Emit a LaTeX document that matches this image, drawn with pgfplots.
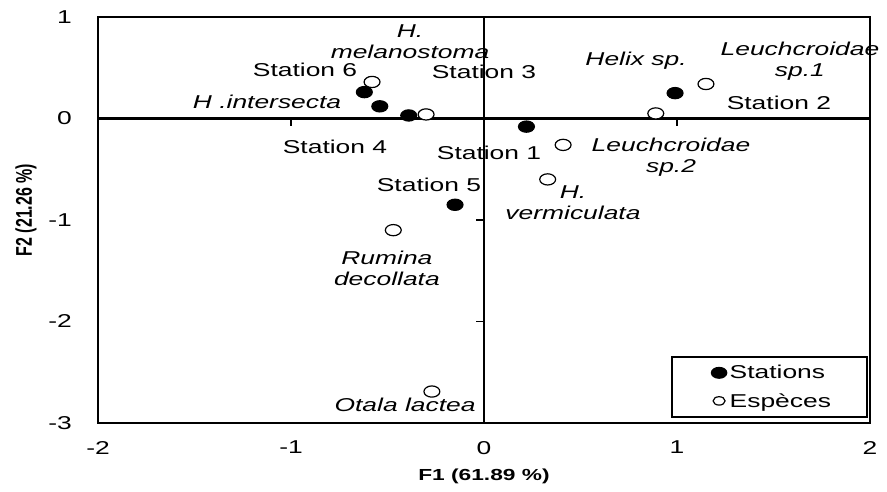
\documentclass[border=0pt]{standalone}
\usepackage{graphicx}
\usepackage{pgfplots}
\pgfplotsset{compat=1.18}
\usepackage{fontspec}
\setmainfont{Liberation Sans}[FakeStretch=1.42]

\newcommand{\lbl}{\fontsize{18.6}{21}\selectfont}

\begin{document}
\begin{tikzpicture}
\begin{axis}[
  scale only axis, width=772pt, height=406pt,
  xmin=-2, xmax=2, ymin=-3, ymax=1,
  xtick={-2,-1,0,1,2}, xticklabels={-2,-1,0,1,2},
  ytick={-3,-2,-1,0,1}, yticklabels={-3,-2,-1,0,1},
  major tick length=0pt,
  axis line style={line width=2.1pt},
  /pgf/number format/assume math mode=true,
  tick label style={font=\lbl, inner sep=0pt},
  xticklabel style={anchor=north, yshift=-18pt},
  yticklabel style={anchor=east, xshift=-26pt},
  label style={font=\fontsize{16}{19}\selectfont\bfseries},
  xlabel={F1 (61.89 \%)},
  % rotated title: the text keeps its natural length and is widened across
  ylabel={\scalebox{0.7042}[1.42]{F2 (21.26 \%)}},
  xlabel style={at={(axis description cs:0.5,0)}, anchor=center, yshift=-53pt},
  ylabel style={at={(axis description cs:-0.0933,0.5246)}, anchor=center},
  clip=false,
  legend style={at={(axis description cs:0.9974,0.0123)}, anchor=south east,
    draw=black, line width=2pt, fill=white, font=\lbl,
    inner xsep=35pt, inner ysep=7.5pt, row sep=11pt,
    nodes={inner sep=1pt}},
  legend cell align=left,
  legend image code/.code={\path (0pt,-6pt) (20pt,6pt);
    \draw[#1] plot coordinates {(11pt,0pt)};},
]
% zero axes with their small ticks
\draw[line width=2.1pt] (axis cs:-2,0) -- (axis cs:2,0);
\draw[line width=2.1pt] (axis cs:0,-3) -- (axis cs:0,1);
\draw[line width=1.4pt] (axis cs:-1,0) -- ++(0pt,-7pt);
\draw[line width=1.4pt] (axis cs:1,0) -- ++(0pt,-7pt);
\draw[line width=1.4pt] (axis cs:0,-1) -- ++(-8pt,0pt);
\draw[line width=1.4pt] (axis cs:0,-2) -- ++(-8pt,0pt);

% stations
\addplot[only marks, mark=*, mark size=5.6pt, line width=1.2pt,
  draw=black, fill=black, mark options={xscale=1.42}, forget plot] coordinates {
  (-0.62,0.26) (-0.54,0.12) (-0.39,0.03) (0.22,-0.08) (0.99,0.25) (-0.15,-0.85)
};
% species
\addplot[only marks, mark=*, mark size=5.6pt, line width=1.2pt,
  draw=black, fill=white, mark options={xscale=1.42}, forget plot] coordinates {
  (-0.58,0.36) (-0.30,0.04) (1.15,0.34) (0.89,0.05)
  (0.41,-0.26) (0.33,-0.60) (-0.47,-1.10) (-0.27,-2.69)
};
\addlegendimage{only marks, mark=*, mark size=5.4pt, line width=1.2pt,
  draw=black, fill=black, mark options={xscale=1.42}}
\addlegendentry{Stations}
\addlegendimage{only marks, mark=*, mark size=4.2pt, line width=1.2pt,
  draw=black, fill=white, mark options={xscale=1.42}}
\addlegendentry{Espèces}

% point labels
\begin{scope}[every node/.style={font=\lbl, align=center, inner sep=0pt}]
\node at (axis cs:-0.927,0.478) {Station 6};
\node at (axis cs:0.000,0.458) {Station 3};
\node at (axis cs:-0.772,-0.281) {Station 4};
\node at (axis cs:1.528,0.153) {Station 2};
\node at (axis cs:0.026,-0.340) {Station 1};
\node at (axis cs:-0.285,-0.655) {Station 5};
\node[font=\lbl\itshape] at (axis cs:-0.383,0.754) {H.\\melanostoma};
\node[font=\lbl\itshape] at (axis cs:-1.124,0.163) {H .intersecta};
\node[font=\lbl\itshape] at (axis cs:0.788,0.567) {Helix sp.};
\node[font=\lbl\itshape] at (axis cs:1.637,0.567) {Leuchcroidae\\sp.1};
\node[font=\lbl\itshape] at (axis cs:0.969,-0.379) {Leuchcroidae\\sp.2};
\node[font=\lbl\itshape] at (axis cs:0.461,-0.833) {H.\\vermiculata};
\node[font=\lbl\itshape] at (axis cs:-0.503,-1.473) {Rumina\\decollata};
\node[font=\lbl\itshape] at (axis cs:-0.409,-2.818) {Otala lactea};
\end{scope}
\end{axis}
\pgfresetboundingbox
\path[use as bounding box] ([xshift=-98pt,yshift=-68pt]current axis.south west) rectangle ++(887pt,491pt);
\end{tikzpicture}
\end{document}
